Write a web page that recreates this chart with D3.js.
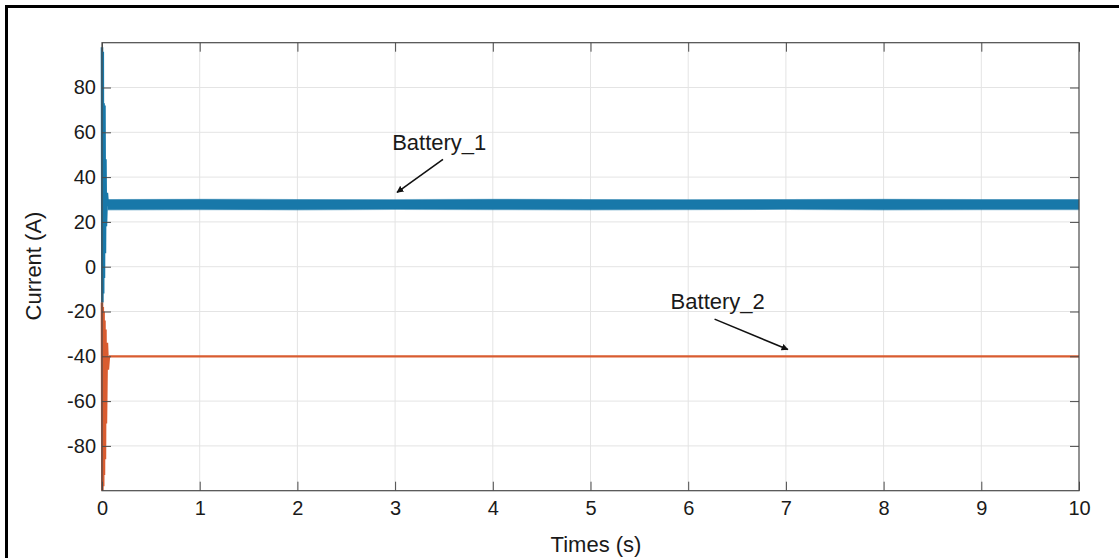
<!DOCTYPE html>
<html>
<head>
<meta charset="utf-8">
<script src="https://cdn.jsdelivr.net/npm/d3@7"></script>
<style>
  html, body { margin: 0; padding: 0; background: #fff; }
  svg { display: block; font-family: "Liberation Sans", Arial, sans-serif; }
</style>
</head>
<body>
<svg id="chart" width="1119" height="558"></svg>
<script>
// Time axis ticks (s) and current axis ticks (A)
const xTicks = [0, 1, 2, 3, 4, 5, 6, 7, 8, 9, 10];
const yTicks = [-80, -60, -40, -20, 0, 20, 40, 60, 80];

// Battery_1: start-up transient (oscillation around t = 0)
const b1TransTime  = [0, 0.004, 0.008, 0.012, 0.016, 0.02, 0.025, 0.03, 0.035, 0.04, 0.05, 0.06];
const b1TransValue = [98, -16, 96, -12, 73, -5, 72, 6, 48, 18, 33, 27];

// Battery_1: steady-state ripple band (lower / upper envelope)
const b1BandTime  = [0.06, 1, 2, 3, 4, 5, 6, 7, 8, 9, 10];
const b1BandLow   = [25.4, 25.5, 25.4, 25.6, 25.5, 25.4, 25.5, 25.6, 25.4, 25.5, 25.5];
const b1BandHigh  = [30.0, 30.1, 30.0, 29.9, 30.1, 30.0, 29.9, 30.0, 30.1, 30.0, 30.0];

// Battery_2: start-up transient
const b2TransTime  = [0, 0.004, 0.008, 0.012, 0.016, 0.02, 0.025, 0.03, 0.035, 0.04, 0.05, 0.06, 0.07];
const b2TransValue = [-16, -100, -18, -98, -20, -93, -24, -86, -28, -70, -34, -46, -40];

// Battery_2: steady state
const b2Time  = [0.07, 1, 2, 3, 4, 5, 6, 7, 8, 9, 10];
const b2Value = [-40, -40, -40, -40, -40, -40, -40, -40, -40, -40, -40];

// Annotations: label anchor and arrow (tail -> head) in data units
const labels = [
  { text: "Battery_1", x: 2.97, y: 52.3, tail: [3.49, 47.9], head: [3.02, 33.2] },
  { text: "Battery_2", x: 5.82, y: -19.0, tail: [6.27, -23.4], head: [7.02, -37.0] }
];

const blue = "#1878a9";
const orange = "#d95c30";
const textColor = "#1a1a1a";
const fontStack = '"Liberation Sans", Arial, sans-serif';

const svg = d3.select("#chart");

// outer frame
svg.append("rect")
  .attr("x", 6.5).attr("y", 6.5)
  .attr("width", 1130).attr("height", 570)
  .attr("fill", "none").attr("stroke", "#000").attr("stroke-width", 3);

const plotLeft = 102, plotRight = 1079, plotTop = 42.7, plotBottom = 490.7;
const x = d3.scaleLinear().domain([0, 10]).range([plotLeft, plotRight]);
const y = d3.scaleLinear().domain([-100, 100]).range([plotBottom, plotTop]);

// grid
const grid = svg.append("g").attr("stroke", "#e4e4e4").attr("stroke-width", 1);
grid.selectAll(".gx").data(xTicks.slice(1, -1)).join("line")
  .attr("class", "gx")
  .attr("x1", d => x(d)).attr("x2", d => x(d))
  .attr("y1", plotTop).attr("y2", plotBottom);
grid.selectAll(".gy").data(yTicks).join("line")
  .attr("class", "gy")
  .attr("x1", plotLeft).attr("x2", plotRight)
  .attr("y1", d => y(d)).attr("y2", d => y(d));

// data
const plot = svg.append("g");

const b1Band = b1BandTime.map((t, i) => ({ t, lo: b1BandLow[i], hi: b1BandHigh[i] }));
plot.append("path")
  .datum(b1Band)
  .attr("fill", blue)
  .attr("stroke", blue).attr("stroke-opacity", 0.45).attr("stroke-width", 1.2)
  .attr("d", d3.area().x(d => x(d.t)).y0(d => y(d.lo)).y1(d => y(d.hi)));

const line = d3.line().x(d => x(d[0])).y(d => y(d[1]));
plot.append("path")
  .datum(b1TransTime.map((t, i) => [t, b1TransValue[i]]))
  .attr("fill", "none").attr("stroke", blue).attr("stroke-width", 2.6)
  .attr("d", line);

plot.append("path")
  .datum(b2Time.map((t, i) => [t, b2Value[i]]))
  .attr("fill", "none").attr("stroke", orange).attr("stroke-width", 2.2)
  .attr("d", line);
plot.append("path")
  .datum(b2TransTime.map((t, i) => [t, b2TransValue[i]]))
  .attr("fill", "none").attr("stroke", orange).attr("stroke-width", 2.6)
  .attr("d", line);

// axes with inward ticks; labels use a plain hyphen for negatives
const axisColor = "#4a4a4a";
const fmt = d => String(d);
const styleAxis = g => {
  g.select(".domain").remove();
  g.selectAll(".tick line").attr("stroke", axisColor);
  g.selectAll("text").attr("fill", textColor).style("font-size", "20px")
    .style("font-family", fontStack);
};

svg.append("g").attr("transform", `translate(0,${plotBottom})`)
  .call(d3.axisBottom(x).tickValues(xTicks).tickFormat(fmt).tickSize(-9).tickPadding(10))
  .call(styleAxis);
svg.append("g").attr("transform", `translate(0,${plotTop})`)
  .call(d3.axisTop(x).tickValues(xTicks).tickFormat("").tickSize(-9))
  .call(styleAxis);
svg.append("g").attr("transform", `translate(${plotLeft},0)`)
  .call(d3.axisLeft(y).tickValues(yTicks).tickFormat(fmt).tickSize(-9).tickPadding(6))
  .call(styleAxis);
svg.append("g").attr("transform", `translate(${plotRight},0)`)
  .call(d3.axisRight(y).tickValues(yTicks).tickFormat("").tickSize(-9))
  .call(styleAxis);

// plot box
svg.append("rect")
  .attr("x", plotLeft).attr("y", plotTop)
  .attr("width", plotRight - plotLeft).attr("height", plotBottom - plotTop)
  .attr("fill", "none").attr("stroke", axisColor).attr("stroke-width", 1.2);

// axis titles
svg.append("text")
  .attr("x", 596).attr("y", 552)
  .attr("text-anchor", "middle").attr("fill", textColor)
  .style("font-size", "22px").text("Times (s)");
svg.append("text")
  .attr("transform", `translate(41,266) rotate(-90)`)
  .attr("text-anchor", "middle").attr("fill", textColor)
  .style("font-size", "22px").text("Current (A)");

// annotations
svg.append("defs").append("marker")
  .attr("id", "arrowhead")
  .attr("viewBox", "0 0 10 10").attr("refX", 9).attr("refY", 5)
  .attr("markerWidth", 7).attr("markerHeight", 7)
  .attr("markerUnits", "userSpaceOnUse")
  .attr("orient", "auto")
  .append("path").attr("d", "M0,0 L10,5 L0,10 Z").attr("fill", "#111");

const ann = svg.append("g");
ann.selectAll("text").data(labels).join("text")
  .attr("x", d => x(d.x)).attr("y", d => y(d.y))
  .attr("fill", textColor).style("font-size", "22px")
  .text(d => d.text);
ann.selectAll("line").data(labels).join("line")
  .attr("x1", d => x(d.tail[0])).attr("y1", d => y(d.tail[1]))
  .attr("x2", d => x(d.head[0])).attr("y2", d => y(d.head[1]))
  .attr("stroke", "#111").attr("stroke-width", 1.6)
  .attr("marker-end", "url(#arrowhead)");
</script>
</body>
</html>
